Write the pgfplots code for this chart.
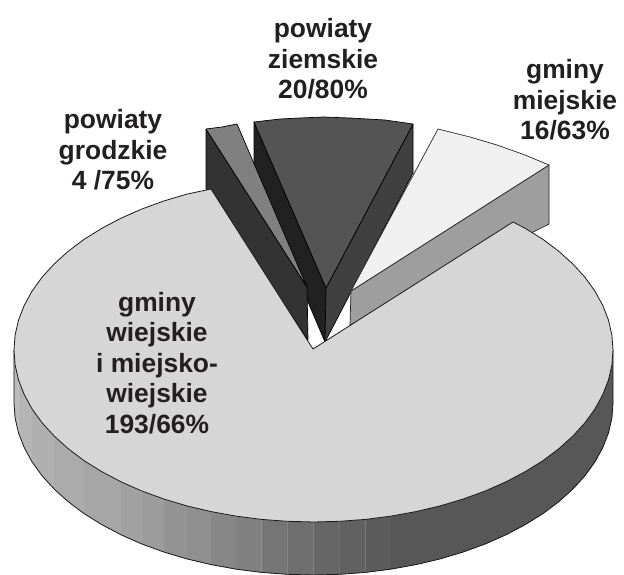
\documentclass[border=0pt]{standalone}
\usepackage{fontspec}
\setmainfont{Liberation Sans}
\usepackage{pgfplots}
\pgfplotsset{compat=1.18}
\definecolor{txt}{HTML}{231F20}
\definecolor{lnk}{HTML}{1A1A1A}
\tikzset{lab/.style={font=\fontsize{26.4}{30.5}\selectfont\bfseries,text=txt,align=center}}
\newcommand{\strip}[2]{\addplot[fill=black!#1,draw=black!#1,line width=0.3pt,forget plot] coordinates {#2};}
\begin{document}
\begin{tikzpicture}
\begin{axis}[scale only axis,width=624pt,height=575pt,hide axis,
 xmin=0,xmax=624,ymin=0,ymax=575,y dir=reverse,
 every axis plot/.append style={mark=none,line join=round}]
\path (axis cs:0,0) rectangle (axis cs:624,575);
% side of the main slice
\strip{66}{(613,350)(611.9,365)(608.5,379.9)(602.8,394.5)(595,408.8)(585,422.7)(572.9,436)(558.8,448.7)(543,460.6)(525.3,471.6)(506,481.8)(485.4,490.9)(463.2,499)(440.1,505.9)(415.9,511.6)(391.1,516.1)(391.1,569.1)(415.9,564.6)(440.1,558.9)(463.2,552)(485.4,543.9)(506,534.8)(525.3,524.6)(543,513.6)(558.8,501.7)(572.9,489)(585,475.7)(595,461.8)(602.8,447.5)(608.5,432.9)(611.9,418)(613,403)}
\strip{64}{(391.1,516.1)(365.5,519.4)(365.5,572.4)(391.1,569.1)}
\strip{62}{(365.5,519.4)(339.6,521.3)(339.6,574.3)(365.5,572.4)}
\strip{60}{(339.6,521.3)(313.5,522)(313.5,575)(339.6,574.3)}
\strip{57}{(313.5,522)(287.4,521.3)(287.4,574.3)(313.5,575)}
\strip{54}{(287.4,521.3)(261.5,519.4)(261.5,572.4)(287.4,574.3)}
\strip{50}{(261.5,519.4)(235.9,516.1)(235.9,569.1)(261.5,572.4)}
\strip{47}{(235.9,516.1)(211.1,511.6)(211.1,564.6)(235.9,569.1)}
\strip{44}{(211.1,511.6)(186.9,505.9)(186.9,558.9)(211.1,564.6)}
\strip{42}{(186.9,505.9)(163.8,499)(163.8,552)(186.9,558.9)}
\strip{39}{(163.8,499)(141.6,490.9)(141.6,543.9)(163.8,552)}
\strip{37}{(141.6,490.9)(121,481.8)(121,534.8)(141.6,543.9)}
\strip{35}{(121,481.8)(101.7,471.6)(84,460.6)(84,513.6)(101.7,524.6)(121,534.8)}
\strip{33}{(84,460.6)(68.2,448.7)(54.1,436)(54.1,489)(68.2,501.7)(84,513.6)}
\strip{31}{(54.1,436)(42,422.7)(32,408.8)(32,461.8)(42,475.7)(54.1,489)}
\strip{29}{(32,408.8)(24.2,394.5)(18.5,379.9)(18.5,432.9)(24.2,447.5)(32,461.8)}
\strip{27}{(18.5,379.9)(15.1,365)(14,350)(14,403)(15.1,418)(18.5,432.9)}
% outline of the side
\addplot[draw=lnk,line width=0.8pt,forget plot] coordinates {(613,350)(613,403)(611.9,418)(608.5,432.9)(602.8,447.5)(595,461.8)(585,475.7)(572.9,489)(558.8,501.7)(543,513.6)(525.3,524.6)(506,534.8)(485.4,543.9)(463.2,552)(440.1,558.9)(415.9,564.6)(391.1,569.1)(365.5,572.4)(339.6,574.3)(313.5,575)(287.4,574.3)(261.5,572.4)(235.9,569.1)(211.1,564.6)(186.9,558.9)(163.8,552)(141.6,543.9)(121,534.8)(101.7,524.6)(84,513.6)(68.2,501.7)(54.1,489)(42,475.7)(32,461.8)(24.2,447.5)(18.5,432.9)(15.1,418)(14,403)(14,350)};
% powiaty ziemskie
\addplot[fill=black!87,draw=black,line width=0.7pt] coordinates {(254,122)(326,288)(325,342)(254,175)(254,122)};
\addplot[fill=black!75,draw=black,line width=0.7pt] coordinates {(413,124)(326,288)(325,342)(413,173)(413,124)};
\addplot[fill=black!67,draw=black,line width=0.7pt] coordinates {(254,122)(280,119)(300,118)(323,117)(350,118)(385,120)(413,124)(326,288)(254,122)};
% powiaty grodzkie
\addplot[fill=black!80,draw=black,line width=0.7pt] coordinates {(206,129)(307,287)(308,340)(206,189)(206,129)};
\addplot[fill=black!50,draw=black,line width=0.7pt] coordinates {(206,129)(222,127)(237,124)(307,287)(206,129)};
% gminy miejskie
\addplot[fill=black!38,draw=black!85,line width=0.7pt] coordinates {(351,291)(549,165)(549,224)(350,325)(351,291)};
\addplot[fill=black!6,draw=black!85,line width=0.7pt] coordinates {(351,291)(438,129)(470,137)(497,145)(525,155)(549,165)(351,291)};
% gminy wiejskie
\addplot[fill=black!16,draw=lnk,line width=0.8pt] coordinates {(313,349)(513,222)(525.3,228.4)(543,239.4)(558.8,251.3)(572.9,264)(585,277.3)(595,291.2)(602.8,305.5)(608.5,320.1)(611.9,335)(613,350)(611.9,365)(608.5,379.9)(602.8,394.5)(595,408.8)(585,422.7)(572.9,436)(558.8,448.7)(543,460.6)(525.3,471.6)(506,481.8)(485.4,490.9)(463.2,499)(440.1,505.9)(415.9,511.6)(391.1,516.1)(365.5,519.4)(339.6,521.3)(313.5,522)(287.4,521.3)(261.5,519.4)(235.9,516.1)(211.1,511.6)(186.9,505.9)(163.8,499)(141.6,490.9)(121,481.8)(101.7,471.6)(84,460.6)(68.2,448.7)(54.1,436)(42,422.7)(32,408.8)(24.2,394.5)(18.5,379.9)(15.1,365)(14,350)(15.1,335)(18.5,320.1)(24.2,305.5)(32,291.2)(42,277.3)(54.1,264)(68.2,251.3)(84,239.4)(101.7,228.4)(121,218.2)(141.6,209.1)(163.8,201)(187,194.1)(211,189)(313,349)};
\node[lab] at (axis cs:323,59) {powiaty\\ziemskie\\20/80\%};
\node[lab] at (axis cs:565,100) {gminy\\miejskie\\16/63\%};
\node[lab] at (axis cs:113,150) {powiaty\\grodzkie\\4 /75\%};
\node[lab] at (axis cs:157,363) {gminy\\wiejskie\\i miejsko-\\wiejskie\\193/66\%};
\end{axis}
\end{tikzpicture}
\end{document}
